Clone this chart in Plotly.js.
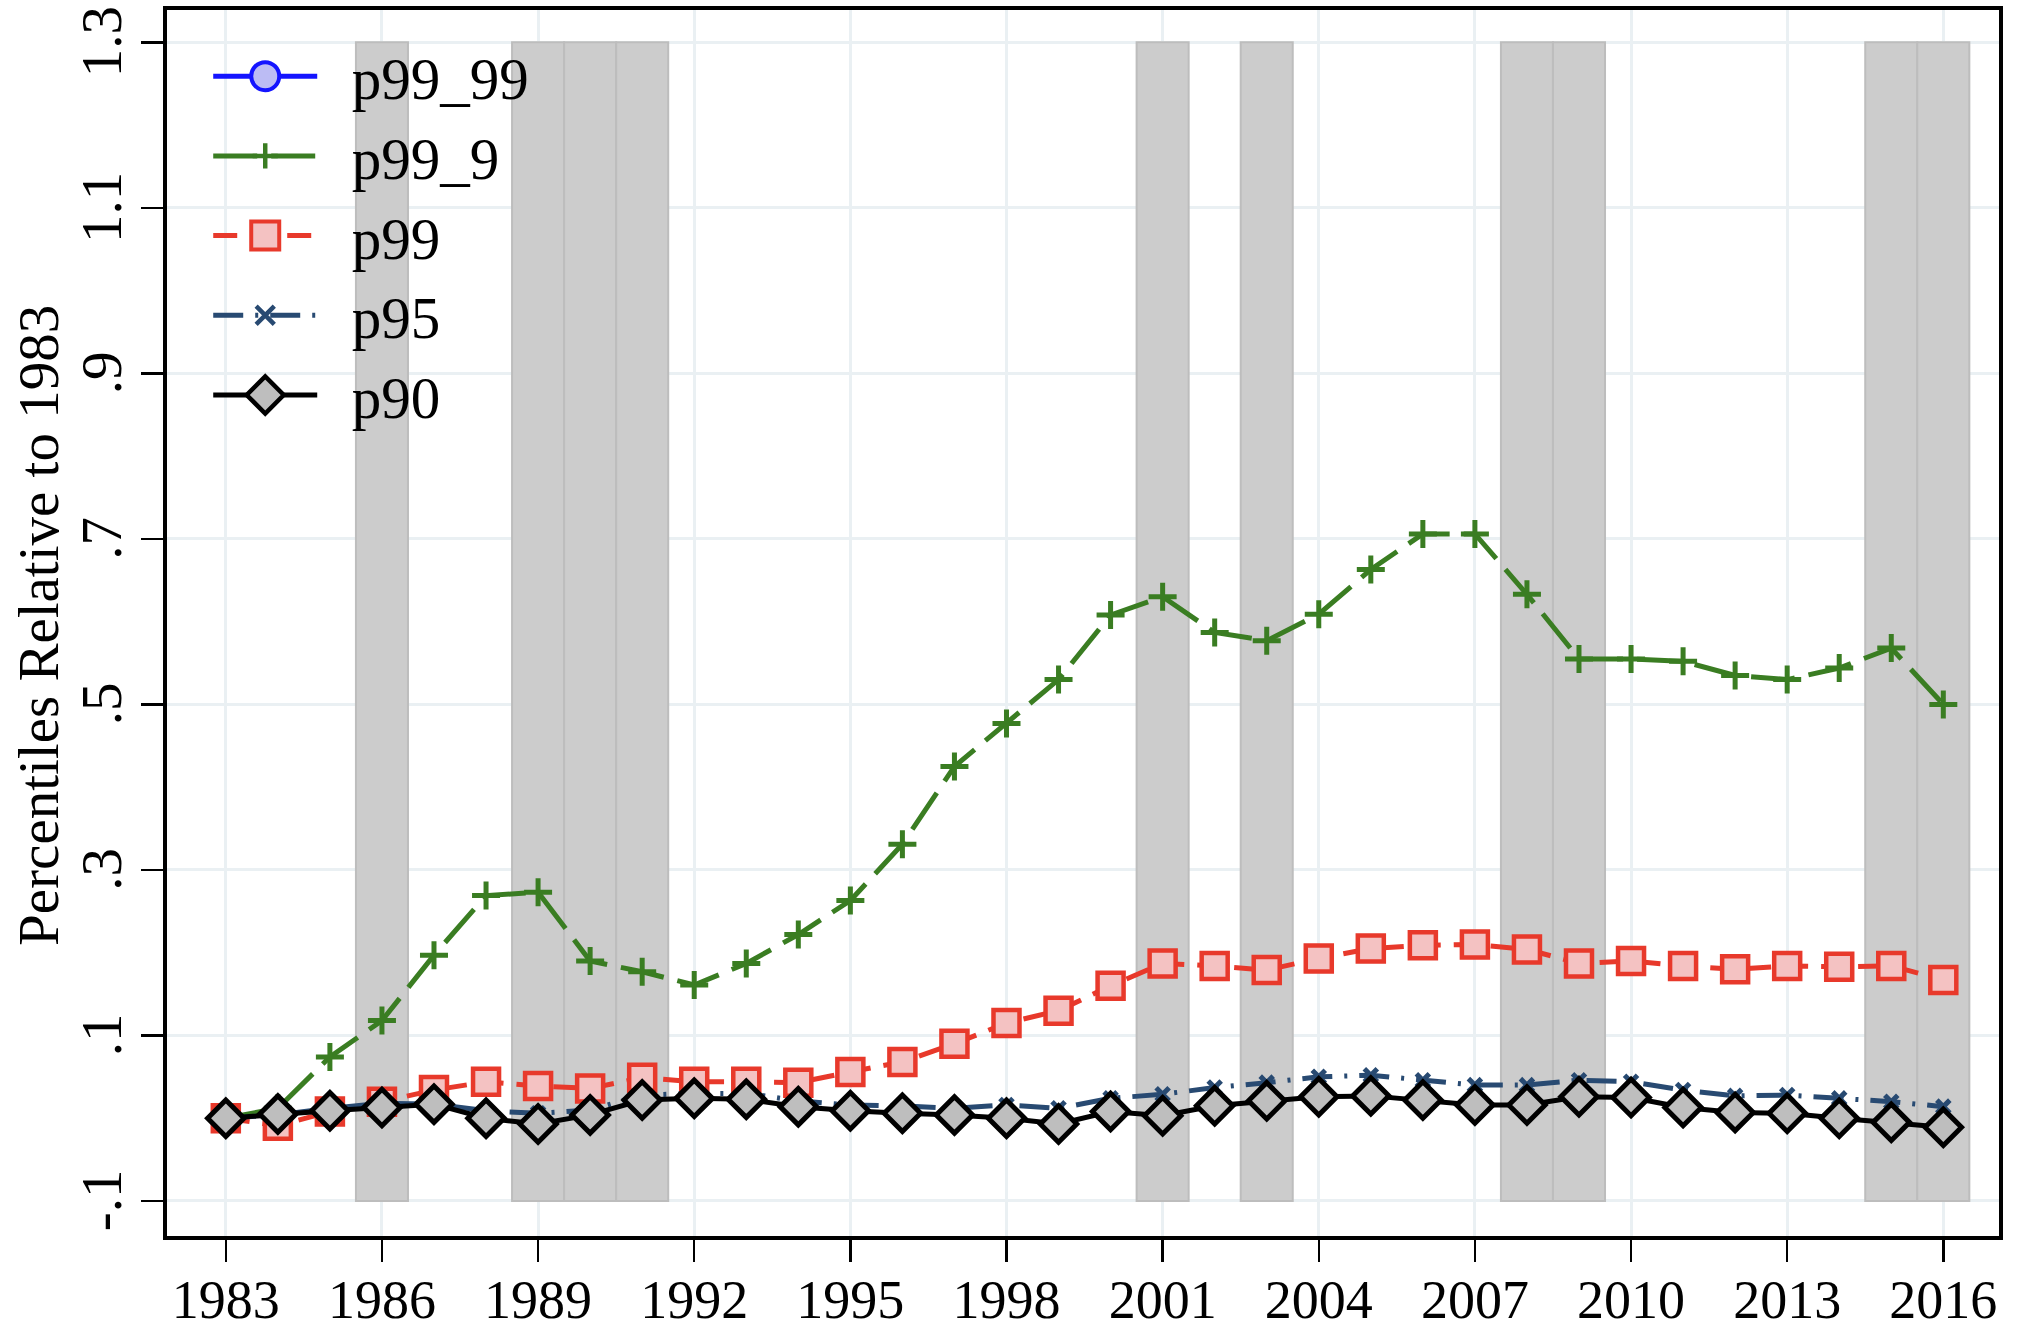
<!DOCTYPE html>
<html>
<head>
<meta charset="utf-8">
<script src="https://cdn.plot.ly/plotly-3.0.1.min.js"></script>
<style>
  html, body { margin: 0; padding: 0; background: #ffffff; }
  #chart { width: 2018px; height: 1330px; }
</style>
</head>
<body>
<div id="chart"></div>
<script>
// ---- data ----
const years = [1983,1984,1985,1986,1987,1988,1989,1990,1991,1992,1993,1994,1995,1996,1997,1998,1999,2000,2001,2002,2003,2004,2005,2006,2007,2008,2009,2010,2011,2012,2013,2014,2015,2016];

const p99_99 = [null,null,null,null,null,null,null,null,null,null,null,null,null,null,null,null,null,null,null,null,null,null,null,null,null,null,null,null,null,null,null,null,null,null];

const p99_9 = [0, 0.012, 0.074, 0.118, 0.197, 0.269, 0.273, 0.19, 0.177, 0.161, 0.187, 0.222, 0.263, 0.331, 0.425, 0.477, 0.53, 0.608, 0.63, 0.587, 0.577, 0.609, 0.663, 0.706, 0.706, 0.633, 0.555, 0.555, 0.552, 0.535, 0.53, 0.544, 0.568, 0.5];

const p99 = [0, -0.009, 0.008, 0.02, 0.034, 0.044, 0.039, 0.036, 0.049, 0.044, 0.044, 0.043, 0.056, 0.068, 0.09, 0.115, 0.13, 0.16, 0.187, 0.184, 0.179, 0.193, 0.205, 0.209, 0.21, 0.204, 0.187, 0.19, 0.184, 0.18, 0.184, 0.183, 0.184, 0.167];

const p95 = [0, 0.004, 0.012, 0.018, 0.017, 0.009, 0.006, 0.01, 0.028, 0.03, 0.03, 0.021, 0.016, 0.015, 0.012, 0.016, 0.012, 0.024, 0.029, 0.037, 0.043, 0.05, 0.052, 0.046, 0.04, 0.04, 0.046, 0.044, 0.034, 0.027, 0.028, 0.024, 0.02, 0.014];

const p90 = [0, 0.005, 0.009, 0.013, 0.017, 0, -0.007, 0.004, 0.022, 0.024, 0.023, 0.014, 0.009, 0.006, 0.004, 0, -0.007, 0.008, 0.003, 0.015, 0.021, 0.026, 0.027, 0.022, 0.016, 0.016, 0.026, 0.025, 0.013, 0.007, 0.006, 0, -0.005, -0.011];

// recession-year shading
const shadeYears = [1986, 1989, 1990, 1991, 2001, 2003, 2008, 2009, 2015, 2016];
const shadeBottom = -0.1;
const shadeTop = 1.3;

// axis ticks
const xTickVals = [1983,1986,1989,1992,1995,1998,2001,2004,2007,2010,2013,2016];
const yTickVals = [-0.1, 0.1, 0.3, 0.5, 0.7, 0.9, 1.1, 1.3];
const yTickText = ['-.1', '.1', '.3', '.5', '.7', '.9', '1.1', '1.3'];

// series names (legend labels) and axis title
const seriesNames = ['p99_99', 'p99_9', 'p99', 'p95', 'p90'];
const yTitle = 'Percentiles Relative to 1983';

// ---- chart ----
const FONT = 'Liberation Serif, Times New Roman, serif';
const LEGEND_PAD = '\u2002';

const traces = [
  {
    type: 'bar',
    x: shadeYears,
    y: shadeYears.map(() => shadeTop - shadeBottom),
    base: shadeBottom,
    width: 1,
    marker: { color: '#cccccc', line: { color: '#bdbdbd', width: 2 } },
    showlegend: false,
    hoverinfo: 'skip'
  },
  {
    type: 'scatter', mode: 'lines+markers', name: LEGEND_PAD + seriesNames[0],
    x: years, y: p99_99,
    line: { color: '#1414ff', width: 5 },
    marker: { symbol: 'circle', size: 24, color: '#bcbcf4', line: { color: '#1414ff', width: 4 } }
  },
  {
    type: 'scatter', mode: 'lines+markers', name: LEGEND_PAD + seriesNames[1],
    x: years, y: p99_9,
    line: { color: '#3a7d22', width: 5, dash: '44px,14px' },
    marker: { symbol: 'cross-thin-open', size: 20, color: '#3a7d22', line: { color: '#3a7d22', width: 5 } }
  },
  {
    type: 'scatter', mode: 'lines+markers', name: LEGEND_PAD + seriesNames[2],
    x: years, y: p99,
    line: { color: '#e8392b', width: 5, dash: '24px,13px' },
    marker: { symbol: 'square', size: 26, color: '#f4c2c2', line: { color: '#e8392b', width: 4.5 } }
  },
  {
    type: 'scatter', mode: 'lines+markers', name: LEGEND_PAD + seriesNames[3],
    x: years, y: p95,
    line: { color: '#284a72', width: 5, dash: '30px,12px,3px,12px' },
    marker: { symbol: 'x-thin-open', size: 13, color: '#284a72', line: { color: '#284a72', width: 5 } }
  },
  {
    type: 'scatter', mode: 'lines+markers', name: LEGEND_PAD + seriesNames[4],
    x: years, y: p90,
    line: { color: '#000000', width: 5 },
    marker: { symbol: 'diamond', size: 28, color: '#bebebe', line: { color: '#000000', width: 5 } }
  }
];

const layout = {
  width: 2018,
  height: 1330,
  margin: { l: 167, r: 19, t: 10, b: 94, pad: 0 },
  paper_bgcolor: '#ffffff',
  plot_bgcolor: '#ffffff',
  font: { family: FONT, color: '#000000', size: 54 },
  showlegend: true,
  legend: {
    x: 0.0225, y: 0.9826, xanchor: 'left', yanchor: 'top',
    bgcolor: 'rgba(0,0,0,0)',
    borderwidth: 0,
    font: { family: FONT, size: 59, color: '#000000' },
    itemwidth: 104,
    itemsizing: 'trace',
    tracegroupgap: 0
  },
  xaxis: {
    range: [1981.87, 2017.07],
    tickvals: xTickVals,
    ticktext: xTickVals.map(String),
    ticks: 'outside', ticklen: 22, tickwidth: 2.5, tickcolor: '#000000',
    ticklabelstandoff: -9,
    ticklabeloverflow: 'allow',
    showgrid: true, gridcolor: '#eaf0f3', gridwidth: 3,
    zeroline: false,
    showline: true, linecolor: '#000000', linewidth: 4, mirror: true,
    tickfont: { family: FONT, size: 54, color: '#000000' }
  },
  yaxis: {
    range: [-0.1423, 1.339],
    tickvals: yTickVals,
    ticktext: yTickText,
    tickangle: -90,
    ticks: 'outside', ticklen: 22, tickwidth: 2.5, tickcolor: '#000000',
    ticklabelstandoff: -3,
    ticklabelshift: 8,
    ticklabeloverflow: 'allow',
    showgrid: true, gridcolor: '#eaf0f3', gridwidth: 3,
    zeroline: false,
    showline: true, linecolor: '#000000', linewidth: 4, mirror: true,
    tickfont: { family: FONT, size: 57, color: '#000000' }
  },
  annotations: [{
    text: yTitle,
    xref: 'paper', yref: 'paper',
    x: -0.0699, y: 0.4984,
    xanchor: 'center', yanchor: 'middle',
    textangle: -90,
    showarrow: false,
    font: { family: FONT, size: 57, color: '#000000' }
  }],
  bargap: 0
};

// per-legend-item marker enlargement (Plotly caps legend markers at 16px)
const legendMarkerScale = [1.75, 1.12, 1.75, 1.4, 1.78];
const legendMarkerStroke = [4, 4.5, 4, 4.5, 4.5];

Plotly.newPlot('chart', traces, layout, { displayModeBar: false, staticPlot: true }).then(function (gd) {
  const items = gd.querySelectorAll('.legend .traces');
  items.forEach(function (item, i) {
    const p = item.querySelector('.legendpoints path.scatterpts');
    if (!p || i >= legendMarkerScale.length) return;
    const s = legendMarkerScale[i];
    const t = p.getAttribute('transform') || '';
    p.setAttribute('transform', t + ' scale(' + s + ')');
    p.style.strokeWidth = (legendMarkerStroke[i] / s) + 'px';
  });
});
</script>
</body>
</html>
